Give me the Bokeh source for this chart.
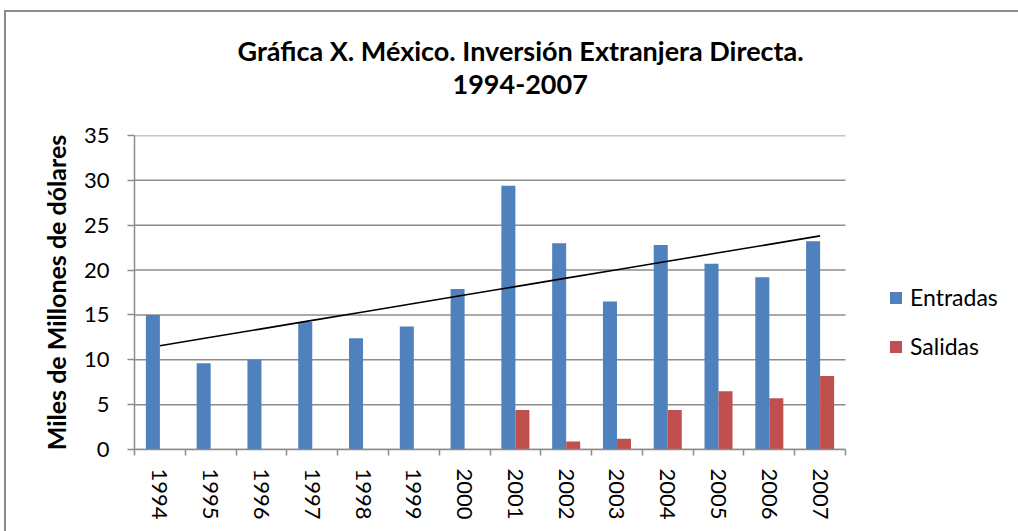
import numpy as np
from bokeh.plotting import figure
from bokeh.models import (Range1d, FixedTicker, Legend, LegendItem, Title,
                          CustomJSTickFormatter)
from bokeh.embed import file_html
from bokeh.resources import INLINE

# ---- data ----
years = ["1994", "1995", "1996", "1997", "1998", "1999", "2000",
         "2001", "2002", "2003", "2004", "2005", "2006", "2007"]
entradas = [15.0, 9.6, 10.0, 14.2, 12.4, 13.7, 17.9,
            29.4, 23.0, 16.5, 22.8, 20.7, 19.2, 23.2]
salidas = [0, 0, 0, 0, 0, 0, 0,
           4.4, 0.9, 1.2, 4.4, 6.5, 5.7, 8.2]
y_ticks = [0, 5, 10, 15, 20, 25, 30, 35]

title_line1 = "Gráfica X. México. Inversión Extranjera Directa."
title_line2 = "1994-2007"
y_label = "Miles de Millones de dólares"

FONT = "Lato"
BLUE = "#4F81BD"
RED = "#C0504D"
GRAY = "#8c8c8c"

n = len(years)
idx = np.arange(n)
centers = idx + 0.5
bw = 0.276

# plot area 134..845 px holds the 14 categories; the frame runs on to the
# right edge so that the legend (drawn inside the frame) is not clipped
W, H = 1018, 531
LEFT, BAR_RIGHT = 134, 845
x_end = n * (W - LEFT) / (BAR_RIGHT - LEFT)

p = figure(width=W, height=H, output_backend="svg", toolbar_location=None,
           x_range=Range1d(0, x_end), y_range=Range1d(0, 35),
           min_border_left=LEFT, min_border_right=0,
           min_border_top=135, min_border_bottom=82)
p.outline_line_color = None
p.background_fill_color = "white"
p.border_fill_alpha = 0
p.styles = {"background": (
    "linear-gradient(#8c8c8c,#8c8c8c) 4px 10px / 2px 600px no-repeat, "
    "linear-gradient(#8c8c8c,#8c8c8c) 4px 10px / 1100px 2px no-repeat, white")}

# grid lines only across the category area
p.xgrid.grid_line_color = None
p.ygrid.grid_line_color = None
p.segment(x0=[0] * len(y_ticks), x1=[n] * len(y_ticks), y0=y_ticks, y1=y_ticks,
          line_color=GRAY, line_width=1.5)

# y axis
yax = p.yaxis[0]
yax.ticker = FixedTicker(ticks=y_ticks)
yax.axis_line_color = GRAY
yax.axis_line_width = 1.5
yax.major_tick_line_color = GRAY
yax.major_tick_line_width = 1.5
yax.major_tick_out = 7
yax.major_tick_in = 0
yax.minor_tick_line_color = None
yax.major_label_text_font = FONT
yax.major_label_text_font_size = "22px"
yax.major_label_text_color = "black"
yax.major_label_standoff = 18
yax.axis_label = y_label
yax.axis_label_text_font = FONT
yax.axis_label_text_font_size = "25px"
yax.axis_label_text_font_style = "bold"
yax.axis_label_text_color = "black"
yax.axis_label_standoff = 10

# x axis
xax = p.xaxis[0]
xax.bounds = (0, n)
xax.ticker = FixedTicker(ticks=list(centers), minor_ticks=list(range(n + 1)))
xax.formatter = CustomJSTickFormatter(args=dict(labels=years),
                                      code="return labels[Math.floor(tick)];")
xax.axis_line_color = GRAY
xax.axis_line_width = 1.5
xax.major_tick_line_color = None
xax.major_tick_out = 0
xax.major_tick_in = 0
xax.minor_tick_line_color = GRAY
xax.minor_tick_line_width = 1.5
xax.minor_tick_out = 6
xax.minor_tick_in = 0
xax.major_label_orientation = "vertical"
xax.major_label_text_font = FONT
xax.major_label_text_font_size = "22px"
xax.major_label_text_color = "black"
xax.major_label_standoff = 13

# bars
r1 = p.vbar(x=centers - bw / 2, top=entradas, width=bw, bottom=0,
            fill_color=BLUE, line_color=None)
r2 = p.vbar(x=centers + bw / 2, top=salidas, width=bw, bottom=0,
            fill_color=RED, line_color=None)

# linear trend of Entradas
coef = np.polyfit(idx, entradas, 1)
p.line(x=centers, y=np.polyval(coef, idx), line_color="black", line_width=1.6)

# legend
legend = Legend(items=[LegendItem(label="Entradas", renderers=[r1]),
                       LegendItem(label="Salidas", renderers=[r2])],
                location=(888 - LEFT, 89), orientation="vertical",
                glyph_width=15, glyph_height=15, label_height=27,
                spacing=21, padding=0, margin=0, label_standoff=7,
                label_text_font=FONT, label_text_font_size="23px",
                label_text_color="black",
                border_line_color=None, background_fill_alpha=0)
p.add_layout(legend)

# title: spacer nearest the frame, then line 2, then line 1
p.add_layout(Title(text=" ", text_font_size="1px", standoff=36), "above")
p.add_layout(Title(text=title_line2, align="left", offset=318, standoff=6,
                   text_font=FONT, text_font_size="27px", text_font_style="bold",
                   text_color="black"), "above")
p.add_layout(Title(text=title_line1, align="left", offset=103, standoff=6,
                   text_font=FONT, text_font_size="27px", text_font_style="bold",
                   text_color="black"), "above")

open("out.html", "w").write(file_html(p, INLINE))
